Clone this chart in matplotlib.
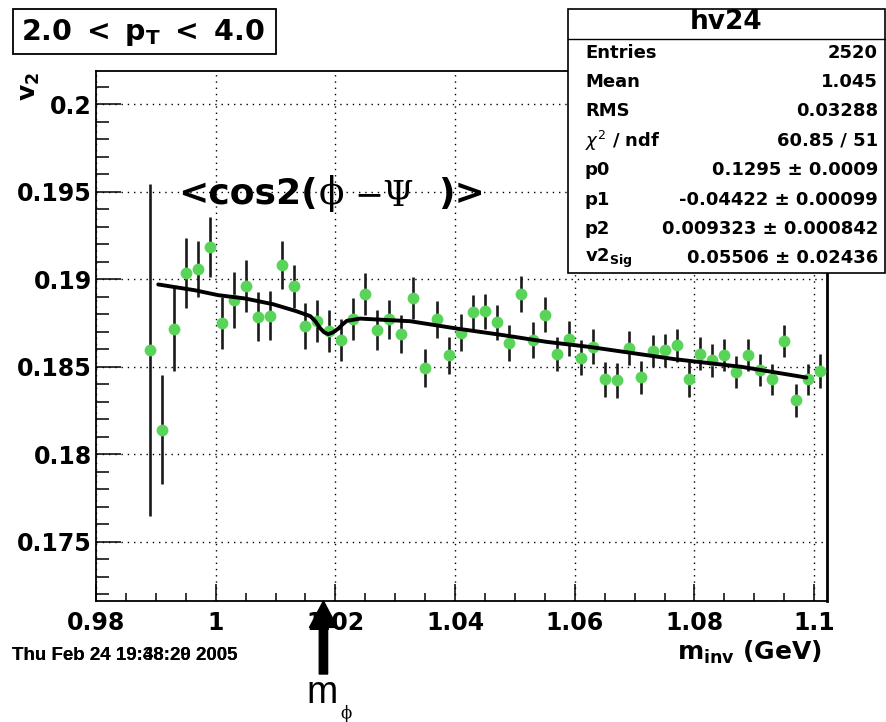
import matplotlib
matplotlib.use("Agg")
import matplotlib.pyplot as plt
from matplotlib.patches import Rectangle
from matplotlib.lines import Line2D
from matplotlib.ticker import MultipleLocator, FuncFormatter

W, H = 886, 722

# v2 vs invariant mass, bins of 2 MeV
m_inv = [0.989, 0.991, 0.993, 0.995, 0.997, 0.999, 1.001, 1.003, 1.005, 1.007,
         1.009, 1.011, 1.013, 1.015, 1.017, 1.019, 1.021, 1.023, 1.025, 1.027,
         1.029, 1.031, 1.033, 1.035, 1.037, 1.039, 1.041, 1.043, 1.045, 1.047,
         1.049, 1.051, 1.053, 1.055, 1.057, 1.059, 1.061, 1.063, 1.065, 1.067,
         1.069, 1.071, 1.073, 1.075, 1.077, 1.079, 1.081, 1.083, 1.085, 1.087,
         1.089, 1.091, 1.093, 1.095, 1.097, 1.099, 1.101]
v2 = [0.18594, 0.18141, 0.18718, 0.19033, 0.19057, 0.19185, 0.18750, 0.18884, 0.18960, 0.18785,
      0.18790, 0.19080, 0.18960, 0.18733, 0.18762, 0.18703, 0.18651, 0.18770, 0.18913, 0.18709,
      0.18770, 0.18686, 0.18890, 0.18493, 0.18771, 0.18566, 0.18695, 0.18810, 0.18817, 0.18753,
      0.18638, 0.18914, 0.18651, 0.18798, 0.18571, 0.18660, 0.18550, 0.18613, 0.18427, 0.18423,
      0.18607, 0.18440, 0.18589, 0.18594, 0.18623, 0.18427, 0.18575, 0.18537, 0.18566, 0.18470,
      0.18566, 0.18480, 0.18427, 0.18646, 0.18309, 0.18427, 0.18476]
v2_err = [0.0095, 0.0031, 0.0024, 0.0020, 0.0016, 0.0017, 0.0015, 0.0016, 0.0015, 0.0014,
          0.0014, 0.00136, 0.00124, 0.0013, 0.0012, 0.0012, 0.0012, 0.0012, 0.0012, 0.00114,
          0.0011, 0.0011, 0.0012, 0.0011, 0.00105, 0.00105, 0.00107, 0.0010, 0.0010, 0.0010,
          0.00103, 0.00103, 0.00104, 0.00098, 0.00098, 0.0010, 0.0010, 0.0010, 0.0010, 0.0010,
          0.00095, 0.00095, 0.0009, 0.00095, 0.00095, 0.0010, 0.00095, 0.00095, 0.00093, 0.0009,
          0.0009, 0.0009, 0.0009, 0.00093, 0.00095, 0.0009, 0.00095]

# fit curve
fit_m = [0.9904, 0.9965, 1.0004, 1.0049, 1.0096, 1.0135, 1.0158, 1.0166, 1.0174, 1.0181,
         1.0188, 1.0196, 1.0205, 1.0212, 1.0219, 1.0241, 1.0291, 1.0325, 1.0403, 1.0481,
         1.0553, 1.0625, 1.0767, 1.0879, 1.0987]
fit_v2 = [0.18970, 0.18937, 0.18909, 0.18890, 0.18857, 0.18817, 0.18789, 0.18762, 0.18722, 0.18697,
          0.18686, 0.18696, 0.18718, 0.18742, 0.18762, 0.18775, 0.18766, 0.18760, 0.18718, 0.18680,
          0.18642, 0.18613, 0.18543, 0.18499, 0.18438]

M_PHI = 1.018

stat_names = ["Entries", "Mean", "RMS", r"$\chi^{2}$ / ndf", "p0", "p1", "p2", r"v2$_{\mathbf{Sig}}$"]
stat_values = ["2520", "1.045", "0.03288", "60.85 / 51", "0.1295 ± 0.0009",
               "-0.04422 ± 0.00099", "0.009323 ± 0.000842", "0.05506 ± 0.02436"]

plt.rcParams["font.family"] = ["DejaVu Sans"]
plt.rcParams["mathtext.fontset"] = "dejavusans"

fig = plt.figure(figsize=(W / 100, H / 100), dpi=100)


def fx(px):
    return px / W


def fy(py):
    return 1 - py / H


ax = fig.add_axes([fx(96), fy(601), fx(827) - fx(96), fy(71) - fy(601)])
ax.set_xlim(0.98, 1.10214)
ax.set_ylim(0.17161, 0.20190)

ax.xaxis.set_major_locator(MultipleLocator(0.02))
ax.xaxis.set_minor_locator(MultipleLocator(0.005))
ax.yaxis.set_major_locator(MultipleLocator(0.005))
ax.yaxis.set_minor_locator(MultipleLocator(0.001))
fmt = FuncFormatter(lambda v, p: "%g" % round(v, 4))
ax.xaxis.set_major_formatter(fmt)
ax.yaxis.set_major_formatter(fmt)

ax.tick_params(axis="both", which="both", direction="in", width=1.1, colors="black")
ax.tick_params(axis="y", which="major", length=18, labelsize=17, pad=3)
ax.tick_params(axis="y", which="minor", length=9)
ax.tick_params(axis="x", which="major", length=12, labelsize=17, pad=7)
ax.tick_params(axis="x", which="minor", length=6)
for lab in ax.get_xticklabels() + ax.get_yticklabels():
    lab.set_fontweight("bold")
for s in ax.spines.values():
    s.set_linewidth(1.3)
ax.spines["right"].set_linewidth(2.0)

ax.grid(True, which="major", color="black", linestyle=(0, (1, 3.5)), linewidth=1.0)
ax.set_axisbelow(True)

lo = [v - e for v, e in zip(v2, v2_err)]
hi = [v + e for v, e in zip(v2, v2_err)]
ax.vlines(m_inv, lo, hi, colors="#1a1a1a", linewidth=1.9, zorder=3)
ax.plot(m_inv, v2, linestyle="none", marker="o", markersize=8.5, color="#58d458",
        markeredgewidth=0, zorder=4)
ax.plot(fit_m, fit_v2, color="black", linewidth=2.8, zorder=5, solid_capstyle="round")

# formula label
fig.text(fx(178), fy(194), "<cos2(", fontsize=26, fontweight="bold", va="center", ha="left")
fig.text(fx(331), fy(194), "ϕ", fontsize=27, family="DejaVu Serif", va="center", ha="center")
fig.text(fx(354), fy(196), "−Ψ", fontsize=25, family="DejaVu Serif", va="center", ha="left")
fig.text(fx(438), fy(194), ")>", fontsize=26, fontweight="bold", va="center", ha="left")

# pT range box
fig.patches.append(Rectangle((fx(13), fy(54)), fx(276) - fx(13), fy(9) - fy(54),
                             transform=fig.transFigure, facecolor="white",
                             edgecolor="black", linewidth=1.3, zorder=6))
fig.text(fx(143), fy(32), r"$\mathbf{2.0\ <\ p_{T}\ <\ 4.0}$", fontsize=20.5,
         ha="center", va="center", zorder=7)

# stats box
fig.patches.append(Rectangle((fx(568), fy(273)), fx(885) - fx(568), fy(9) - fy(273),
                             transform=fig.transFigure, facecolor="white",
                             edgecolor="black", linewidth=1.2, zorder=6))
fig.lines.append(Line2D([fx(568), fx(885)], [fy(39), fy(39)], transform=fig.transFigure,
                        color="black", linewidth=1.0, zorder=7))
fig.text(fx(726), fy(22), "hv24", fontsize=19, fontweight="bold", ha="center", va="center", zorder=7)
for i, (n, v) in enumerate(zip(stat_names, stat_values)):
    yy = 52.5 + i * 29.4
    fig.text(fx(585), fy(yy), n, fontsize=13, fontweight="bold", ha="left", va="center", zorder=7)
    fig.text(fx(878), fy(yy), v, fontsize=13, fontweight="bold", ha="right", va="center", zorder=7)

# axis titles
fig.text(fx(30), fy(86), r"$\mathbf{v_{2}}$", fontsize=18, rotation=90, ha="center", va="center")
fig.text(fx(822), fy(652), r"$\mathbf{m_{inv}}$ (GeV)", fontsize=18, fontweight="bold",
         ha="right", va="center")

# timestamp (two overlapping prints)
for stamp in ["Thu Feb 24 19:48:20 2005", "Thu Feb 24 19:38:29 2005"]:
    fig.text(fx(12), fy(656), stamp, fontsize=13.5, fontweight="bold", family="Liberation Sans",
             ha="left", va="center")

# phi mass arrow
ax.annotate("", xy=(M_PHI, H - 601), xycoords=("data", "figure pixels"),
            xytext=(M_PHI, H - 674), textcoords=("data", "figure pixels"),
            arrowprops=dict(arrowstyle="simple,head_length=0.95,head_width=1.0,tail_width=0.3",
                            mutation_scale=20, color="black", shrinkA=0, shrinkB=0),
            annotation_clip=False)
fig.text(fx(322), fy(693), "m", fontsize=27, family="Liberation Sans", ha="center", va="center")
fig.text(fx(346), fy(713), "ϕ", fontsize=12, family="DejaVu Serif", ha="center", va="center")

fig.savefig("out.png", dpi=100)
